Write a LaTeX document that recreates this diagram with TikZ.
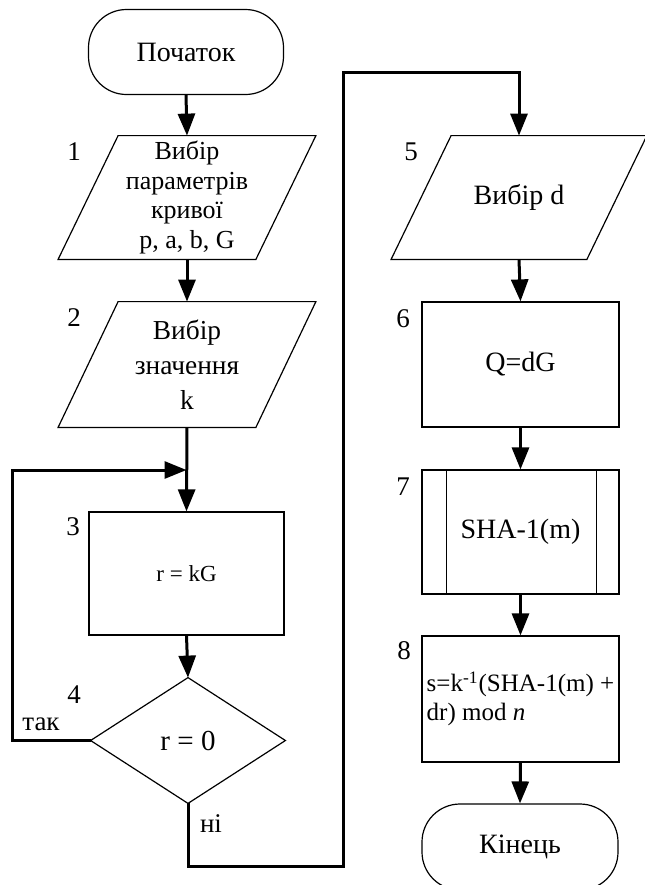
\documentclass[tikz,border=0pt]{standalone}
\usepackage{fontspec}
\setmainfont{Liberation Serif}
\usetikzlibrary{arrows.meta,calc}
\begin{document}
\begin{tikzpicture}[x=0.5pt,y=-0.5pt,
  every node/.style={font=\fontsize{14}{16}\selectfont},
  shapeline/.style={draw=black, line width=0.6pt},
  term/.style={shapeline, rounded corners=19pt, minimum width=97.5pt, minimum height=42.5pt, inner sep=0pt},
  procbox/.style={shapeline, minimum width=98.5pt, inner sep=0pt},
  ghost/.style={minimum width=97.5pt, minimum height=61.5pt, inner sep=0pt, align=center},
  conn/.style={line width=1.5pt, -{Triangle[width=8.5pt,length=11pt]}},
  numlabel/.style={anchor=base, font=\fontsize{13.5}{16}\selectfont}
]
\useasboundingbox (0,0) rectangle (644,885);

% nodes
\node[term] (start) at (186,52) {Початок};
\node[ghost, minimum width=98.5pt, font=\fontsize{13}{15.5}\selectfont] (p1) at (187,197.5) {\raisebox{-2pt}{\shortstack{Вибір\\[0.5pt]параметрів\\[0.5pt]кривої\\[0.5pt]p, a, b, G}}};
\node[ghost, minimum width=98.5pt, minimum height=62.5pt, font=\fontsize{13.7}{17.5}\selectfont] (p2) at (187,364.5) {Вибір\\значення\\k};
\node[procbox, minimum width=97.5pt, minimum height=61.5pt, font=\fontsize{11.5}{13}\selectfont] (b3) at (186.5,573.5) {r = kG};
\node[ghost, minimum width=97pt, minimum height=62.5pt, font=\fontsize{14.5}{16}\selectfont] (d4) at (188,740.5) {r = 0};

\node[ghost] (p5) at (519,197.5) {Вибір d};
\node[procbox, minimum height=62.5pt] (b6) at (520.5,364.5) {Q=dG};
\node[procbox, minimum height=62pt] (b7) at (520.5,532) {SHA-1(m)};
\node[procbox, minimum height=63pt, align=left, font=\fontsize{12.5}{14.5}\selectfont] (b8) at (520.5,699) {s=k\textsuperscript{-1}(SHA-1(m) +\\dr) mod \textit{n}};
\node[term, minimum width=98pt, minimum height=43pt] (end) at (520,847) {Кінець};

% shapes drawn around ghost nodes
\draw[shapeline] ([xshift=15pt]p1.north west) -- ([xshift=15pt]p1.north east) -- ([xshift=-15pt]p1.south east) -- ([xshift=-15pt]p1.south west) -- cycle;
\draw[shapeline] ([xshift=15pt]p2.north west) -- ([xshift=15pt]p2.north east) -- ([xshift=-15pt]p2.south east) -- ([xshift=-15pt]p2.south west) -- cycle;
\draw[shapeline] ([xshift=15pt]p5.north west) -- ([xshift=15pt]p5.north east) -- ([xshift=-15pt]p5.south east) -- ([xshift=-15pt]p5.south west) -- cycle;
\draw[shapeline] (d4.north) -- (d4.east) -- (d4.south) -- (d4.west) -- cycle;
\draw[shapeline] ([xshift=12.5pt]b7.north west) -- ([xshift=12.5pt]b7.south west);
\draw[shapeline] ([xshift=-11.5pt]b7.north east) -- ([xshift=-11.5pt]b7.south east);

% labels
\node[numlabel] (n1) at (74,160) {1};
\node[numlabel] (n2) at (74,326) {2};
\node[numlabel] (n3) at (73,535) {3};
\node[numlabel] (n4) at (74,703) {4};
\node[numlabel] (n5) at (411,160) {5};
\node[numlabel] (n6) at (403,327) {6};
\node[numlabel] (n7) at (403,495) {7};
\node[numlabel] (n8) at (404,659) {8};
\node[numlabel] (yes) at (41,730) {так};
\node[numlabel] (no) at (211,832) {ні};

% helper coordinates
\coordinate (loopL) at (12,470);
\coordinate (join) at (186.5,470);
\coordinate (c1) at (343,866);
\coordinate (c2) at (343,72);

% connectors
\draw[conn] (start.south) -- (p1.north);
\draw[conn] (p1.south) -- (p2.north);
\draw[conn] (p2.south) -- (b3.north);
\draw[conn] (b3.south) -- (d4.north);
\draw[conn] (d4.west) -| (loopL) -- (join);
\draw[conn] (d4.south) |- (c1) -- (c2) -| (p5.north);
\draw[conn] (p5.south) -- (b6.north);
\draw[conn] (b6.south) -- (b7.north);
\draw[conn] (b7.south) -- (b8.north);
\draw[conn] (b8.south) -- (end.north);
\end{tikzpicture}
\end{document}
